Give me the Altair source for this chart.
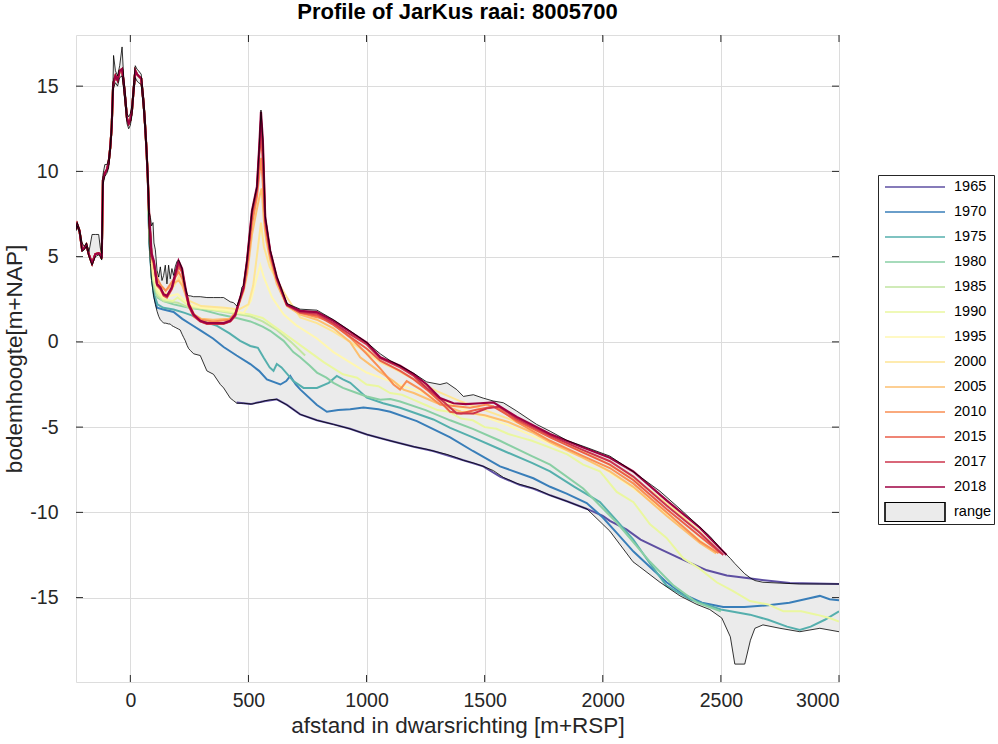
import altair as alt
import pandas as pd

# ---------------- data ----------------
years = ["1965", "1970", "1975", "1980", "1985", "1990", "1995",
         "2000", "2005", "2010", "2015", "2017", "2018"]
colors = ["#5e4fa2", "#397eb9", "#55afad", "#89cfa4", "#c1e5a0", "#eaf79f", "#fff7b0",
          "#fee594", "#fdbf6f", "#f98e52", "#ea5d47", "#cc344d", "#9e0142"]

# dune part shared by all profiles from 1970 on
dune_x = [-230, -225, -215, -204, -195, -186, -175, -162, -148, -134, -127, -121, -116, -108,
          -99, -92, -85, -79, -73, -71, -63, -54, -45, -35, -28, -21, -14, -7, 0, 7, 14, 21,
          28, 35, 46, 56, 62, 68, 74]
dune_y = [6.6, 6.9, 6.5, 5.4, 5.5, 5.7, 5.1, 4.6, 5.15, 5.2, 5.1, 4.9, 9.5, 9.9,
          10.1, 10.5, 11.4, 12.6, 15.0, 15.2, 15.6, 15.35, 15.9, 16.0, 15.2, 14.2, 13.1, 12.8, 13.0, 13.6, 14.8, 15.9,
          15.7, 15.6, 15.45, 14.0, 12.8, 11.4, 9.6]

x1965 = [450, 508, 560, 620, 663, 719, 790, 860, 930, 1001, 1100, 1200, 1282, 1400, 1494, 1565,
         1650, 1705, 1777, 1848, 1933, 2000, 2030, 2100, 2160, 2250, 2327, 2441, 2525, 2635, 2792, 3000]
y1965 = [-3.55, -3.65, -3.5, -3.37, -3.7, -4.25, -4.6, -4.84, -5.1, -5.43, -5.8, -6.15, -6.4, -6.9, -7.3, -7.9,
         -8.4, -8.6, -9.0, -9.35, -9.8, -10.2, -10.5, -11.0, -11.6, -12.2, -12.7, -13.4, -13.7, -13.9, -14.15, -14.2]

x1970 = [80, 90, 100, 113, 140, 183, 220, 254, 300, 350, 395, 450, 508, 545, 578, 635, 660, 677, 700, 720,
         790, 832, 880, 931, 987, 1050, 1100, 1213, 1354, 1450, 1565, 1706, 1777, 1847, 1932, 2000, 2059,
         2130, 2200, 2270, 2341, 2420, 2510, 2600, 2700, 2790, 2870, 2919, 2960, 3000]
y1970 = [6.0, 3.9, 2.7, 2.0, 1.9, 1.75, 1.35, 1.05, 0.65, 0.2, -0.3, -0.8, -1.3, -1.7, -2.2, -2.5, -2.3, -2.0, -2.5, -2.8,
         -3.7, -4.1, -4.0, -3.95, -3.85, -3.95, -4.1, -4.65, -5.6, -6.4, -7.3, -8.0, -8.5, -8.9, -9.45, -10.3, -11.2,
         -12.3, -13.2, -14.1, -14.8, -15.3, -15.55, -15.55, -15.45, -15.3, -15.05, -14.9, -15.1, -15.15]

x1975 = [80, 90, 100, 115, 140, 183, 230, 280, 330, 367, 420, 465, 508, 540, 564, 590, 606, 620, 640, 690,
         733, 790, 840, 874, 900, 931, 1001, 1070, 1142, 1283, 1354, 1450, 1565, 1700, 1777, 1880, 1988,
         2060, 2129, 2200, 2270, 2369, 2500, 2623, 2700, 2780, 2834, 2880, 2940, 3000]
y1975 = [6.0, 3.8, 2.8, 2.2, 2.0, 1.9, 1.7, 1.45, 1.1, 0.94, 0.5, 0.06, -0.24, -0.35, -0.92, -1.5, -1.7, -1.3, -1.5, -2.3,
         -2.7, -2.7, -2.4, -2.0, -2.2, -2.4, -3.27, -3.6, -3.86, -4.55, -5.04, -5.6, -6.3, -7.1, -7.6, -8.5, -9.4,
         -10.5, -11.6, -13.0, -14.3, -15.1, -15.7, -16.0, -16.3, -16.7, -16.9, -16.7, -16.3, -15.8]

x1980 = [80, 90, 100, 115, 140, 183, 250, 300, 380, 450, 508, 560, 592, 649, 690, 719, 760, 790, 830, 860,
         900, 959, 1001, 1058, 1100, 1142, 1250, 1354, 1450, 1565, 1700, 1777, 1917, 2059, 2200, 2300, 2400, 2500]
y1980 = [6.2, 4.1, 3.1, 2.6, 2.4, 2.2, 2.0, 1.9, 1.6, 1.4, 1.2, 0.9, 0.65, 0.06, -0.6, -0.9, -1.4, -1.8, -2.1, -2.4,
         -2.7, -3.0, -3.2, -3.4, -3.35, -3.5, -4.0, -4.6, -5.1, -5.8, -6.7, -7.2, -8.6, -10.6, -12.9, -14.3, -15.3, -15.8]

x1985 = [80, 90, 100, 115, 140, 200, 250, 300, 400, 508, 560, 620, 680, 740]
y1985 = [6.5, 4.3, 3.4, 2.7, 2.4, 2.3, 2.0, 1.95, 1.75, 1.5, 1.2, 0.7, 0.0, -0.8]

x1990 = [80, 90, 100, 115, 140, 180, 200, 220, 250, 300, 400, 508, 560, 600, 650, 700, 760, 820, 900, 960,
         1000, 1050, 1100, 1150, 1200, 1250, 1300, 1350, 1400, 1450, 1500, 1550, 1600, 1650, 1700, 1777, 1850,
         1917, 1988, 2059, 2130, 2200, 2270, 2341, 2410, 2482, 2550, 2623, 2700, 2764, 2840, 2905, 2960, 3000]
y1990 = [6.8, 4.4, 3.6, 2.9, 2.5, 2.4, 2.6, 2.4, 2.1, 2.0, 1.8, 1.6, 1.4, 1.0, 0.5, 0.0, -0.6, -1.2, -1.9, -2.1,
         -2.5, -2.6, -3.0, -3.1, -3.4, -3.7, -4.0, -4.1, -4.5, -4.6, -5.0, -5.1, -5.4, -5.6, -5.8, -6.2, -6.6,
         -7.2, -7.6, -8.8, -9.4, -10.7, -11.5, -12.7, -13.3, -14.1, -14.6, -15.2, -15.4, -15.8, -15.8, -16.0, -16.2, -16.4]

x1995 = [80, 90, 100, 115, 140, 200, 250, 300, 400, 480, 510, 530, 550, 565, 600, 650, 700, 790, 860, 930,
         1000, 1100, 1200, 1300, 1400, 1500, 1600, 1700, 1800, 1900, 2000, 2100, 2200, 2300, 2400, 2470]
y1995 = [7.0, 4.6, 3.8, 3.1, 2.6, 2.8, 2.2, 2.0, 1.9, 1.7, 2.4, 3.5, 4.5, 3.8, 2.6, 1.6, 1.0, 0.2, -0.6, -1.2,
         -1.8, -2.3, -2.8, -3.3, -3.9, -4.4, -4.9, -5.5, -6.1, -6.7, -7.4, -8.3, -9.3, -10.4, -11.5, -12.3]

x2000 = [80, 90, 100, 115, 140, 160, 190, 205, 225, 250, 300, 400, 460, 500, 520, 540, 553, 565, 590, 630,
         663, 719, 790, 860, 930, 1000, 1060, 1120, 1200, 1300, 1400, 1500, 1600, 1700, 1800, 1900, 2000,
         2100, 2200, 2300, 2400, 2480]
y2000 = [7.0, 4.8, 4.0, 3.3, 2.9, 2.8, 3.4, 3.8, 3.2, 2.4, 2.1, 2.0, 1.9, 2.2, 3.3, 5.5, 7.0, 5.6, 4.4, 3.4,
         2.6, 1.43, 1.1, 0.6, 0.0, -0.6, -1.2, -1.6, -2.2, -2.9, -3.5, -4.0, -4.5, -5.1, -5.7, -6.3, -7.0,
         -7.8, -8.7, -9.8, -11.0, -12.1]

x2005 = [80, 90, 100, 115, 130, 150, 175, 190, 205, 220, 235, 250, 270, 300, 350, 420, 445, 465, 480, 495,
         515, 536, 548, 556, 565, 575, 592, 620, 663, 719, 790, 860, 930, 973, 1050, 1114, 1156, 1200, 1300,
         1400, 1500, 1600, 1700, 1777, 1917, 2030, 2129, 2270, 2411, 2480]
y2005 = [7.2, 5.0, 4.4, 3.6, 3.3, 3.0, 3.3, 3.5, 3.6, 3.3, 2.7, 2.1, 1.6, 1.35, 1.3, 1.35, 1.7, 2.4, 3.0, 4.0,
         6.3, 7.8, 8.6, 9.0, 7.2, 6.0, 4.8, 3.4, 2.1, 1.6, 1.3, 0.8, 0.0, -0.9, -1.7, -2.3, -2.8, -3.0, -3.6,
         -4.1, -4.3, -4.7, -5.3, -5.9, -6.8, -7.6, -8.5, -10.2, -11.8, -12.4]

x2010 = [80, 90, 100, 115, 130, 150, 175, 190, 205, 220, 235, 250, 270, 300, 350, 420, 445, 465, 480, 495,
         515, 536, 546, 554, 562, 572, 592, 620, 663, 719, 790, 846, 931, 1000, 1060, 1114, 1142, 1170, 1230,
         1311, 1438, 1509, 1560, 1636, 1777, 1917, 2030, 2129, 2270, 2411, 2490]
y2010 = [7.3, 5.0, 4.5, 3.7, 3.3, 3.0, 3.5, 3.8, 4.1, 3.7, 2.9, 2.2, 1.6, 1.3, 1.2, 1.3, 1.7, 2.5, 3.1, 4.3,
         6.9, 8.5, 9.8, 10.8, 9.0, 6.6, 5.0, 3.6, 2.2, 1.7, 1.45, 1.2, 0.25, -0.7, -1.6, -2.5, -2.8, -2.3, -2.8,
         -3.67, -3.86, -3.67, -3.9, -4.7, -5.8, -6.7, -7.4, -8.3, -10.0, -11.7, -12.4]

x2015 = [80, 90, 100, 113, 127, 141, 155, 176, 190, 204, 219, 233, 247, 268, 296, 324, 395, 423, 444, 465,
         479, 494, 515, 536, 546, 553, 561, 571, 592, 620, 663, 719, 790, 860, 930, 1001, 1058, 1142, 1200,
         1255, 1311, 1354, 1400, 1460, 1537, 1636, 1777, 1917, 2030, 2129, 2270, 2411, 2500]
y2015 = [7.3, 5.0, 4.6, 3.3, 3.1, 2.7, 2.6, 3.1, 3.8, 4.4, 4.1, 3.0, 2.1, 1.5, 1.2, 1.05, 1.05, 1.2, 1.5, 2.5,
         3.1, 4.6, 7.4, 8.8, 11.0, 12.2, 10.5, 7.0, 5.2, 3.7, 2.15, 1.7, 1.55, 1.0, 0.3, -0.4, -1.1, -1.7, -2.2,
         -2.8, -3.5, -4.1, -4.2, -4.0, -3.8, -4.6, -5.6, -6.5, -7.2, -8.1, -9.8, -11.4, -12.4]

x2017 = [80, 90, 100, 113, 127, 141, 155, 176, 190, 204, 219, 233, 247, 268, 296, 324, 395, 423, 444, 465,
         479, 494, 515, 536, 546, 553, 561, 571, 592, 620, 663, 719, 790, 860, 930, 1001, 1058, 1142, 1200,
         1255, 1325, 1382, 1452, 1510, 1560, 1636, 1777, 1917, 2030, 2129, 2270, 2411, 2510]
y2017 = [7.3, 5.0, 4.7, 3.35, 3.15, 2.75, 2.65, 3.15, 3.9, 4.6, 4.2, 3.1, 2.15, 1.55, 1.2, 1.08, 1.08, 1.2, 1.55, 2.55,
         3.15, 4.7, 7.6, 9.0, 11.3, 13.0, 11.4, 7.2, 5.3, 3.7, 2.15, 1.75, 1.65, 1.1, 0.45, -0.15, -0.95, -1.5, -2.0,
         -2.7, -3.5, -4.2, -4.2, -3.9, -3.8, -4.5, -5.5, -6.35, -7.0, -7.9, -9.6, -11.2, -12.5]

x2018 = [80, 90, 99, 113, 127, 141, 155, 176, 190, 204, 219, 233, 247, 268, 296, 324, 395, 423, 444, 465,
         479, 494, 515, 536, 546, 553, 561, 571, 592, 620, 663, 719, 790, 860, 930, 1001, 1058, 1142, 1200,
         1255, 1311, 1368, 1420, 1481, 1537, 1636, 1777, 1917, 2030, 2129, 2270, 2411, 2524]
y2018 = [7.4, 5.2, 4.76, 3.4, 3.2, 2.8, 2.7, 3.2, 4.0, 4.76, 4.3, 3.2, 2.2, 1.6, 1.24, 1.1, 1.1, 1.24, 1.6, 2.6,
         3.2, 4.76, 7.7, 9.1, 11.5, 13.5, 11.8, 7.3, 5.35, 3.8, 2.2, 1.82, 1.75, 1.24, 0.6, -0.04, -0.9, -1.4, -1.9,
         -2.5, -3.3, -3.6, -3.65, -3.6, -3.55, -4.4, -5.4, -6.2, -6.8, -7.6, -9.3, -10.9, -12.5]

# envelope of all surveyed years (range)
range_x = [-230, -225, -215, -204, -195, -186, -175, -162, -148, -134, -127, -121, -116, -108, -99, -92,
           -85, -79, -73, -71, -63, -54, -45, -35, -28, -21, -14, -7, 0, 7, 14, 21, 28, 35, 46, 56, 62,
           68, 74, 80, 85, 90, 96, 100, 106, 113, 120, 127, 134, 141, 148, 155, 162, 169, 176, 183, 190,
           197, 204, 211, 219, 226, 233, 240, 247, 254, 268, 296, 324, 352, 381, 395, 423, 437, 451, 465,
           472, 479, 494, 515, 536, 546, 553, 561, 571, 592, 620, 663, 719, 790, 860, 930, 1001, 1058,
           1100, 1142, 1200, 1255, 1311, 1340, 1382, 1410, 1452, 1494, 1537, 1579, 1636, 1720, 1777,
           1848, 1933, 2030, 2128, 2157, 2242, 2327, 2398, 2453, 2504, 2540, 2559, 2601, 2625, 2644,
           2678, 2750, 2834, 2919, 3000]
range_hi = [6.7, 7.0, 6.6, 5.8, 5.6, 5.8, 5.3, 6.3, 6.3, 6.3, 5.5, 5.2, 9.8, 10.4, 10.4, 10.7,
            11.6, 13.0, 15.4, 16.8, 15.9, 15.6, 16.2, 17.3, 15.5, 14.6, 13.4, 13.2, 13.4, 13.9, 15.2, 16.2,
            16.0, 15.9, 15.7, 14.4, 13.3, 11.8, 10.2, 7.6, 7.3, 6.8, 7.0, 5.8, 5.4, 4.2, 3.8, 4.4, 3.6,
            3.9, 4.5, 3.4, 4.5, 3.7, 4.3, 3.9, 4.4, 4.7, 4.8, 4.6, 4.3, 3.6, 3.2, 2.8, 2.7, 2.7, 2.65,
            2.65, 2.6, 2.6, 2.6, 2.6, 2.35, 2.3, 2.1, 2.6, 3.2, 3.3, 4.8, 7.7, 9.1, 11.5, 13.6, 11.9,
            7.4, 5.4, 3.85, 2.25, 1.92, 1.86, 1.3, 0.65, -0.04, -0.7, -1.1, -1.4, -1.85, -2.35, -2.5,
            -2.4, -2.8, -3.2, -3.1, -3.3, -3.47, -3.57, -4.06, -4.84, -5.24, -5.78, -6.2, -6.7, -7.6,
            -7.9, -8.76, -9.8, -10.7, -11.4, -12.2, -12.7, -13.0, -13.6, -13.85, -14.0, -14.1, -14.15,
            -14.2, -14.2, -14.2]
range_lo = [6.5, 6.8, 6.4, 5.3, 5.4, 5.6, 5.0, 4.5, 5.0, 5.1, 5.0, 4.8, 9.2, 9.7, 9.9, 10.2,
            11.1, 12.2, 14.6, 14.9, 15.2, 15.0, 15.5, 15.6, 14.8, 13.8, 12.8, 12.5, 12.7, 13.3, 14.5, 15.5,
            15.3, 15.2, 15.1, 13.6, 12.4, 11.0, 9.2, 5.8, 4.6, 3.6, 3.0, 2.6, 2.2, 1.8, 1.5, 1.3, 1.2,
            1.1, 1.1, 1.08, 1.05, 1.05, 0.95, 0.9, 0.85, 0.8, 0.75, 0.7, 0.45, 0.25, 0.06, -0.2, -0.4,
            -0.5, -0.7, -0.8, -1.7, -1.9, -2.5, -2.7, -3.3, -3.45, -3.6, -3.6, -3.6, -3.6, -3.62, -3.65,
            -3.57, -3.56, -3.53, -3.5, -3.45, -3.4, -3.37, -3.7, -4.25, -4.6, -4.84, -5.1, -5.43, -5.65,
            -5.8, -5.95, -6.15, -6.3, -6.5, -6.6, -6.8, -6.95, -7.1, -7.3, -7.55, -7.95, -8.3, -8.65,
            -9.0, -9.35, -9.8, -11.1, -12.9, -13.2, -14.1, -14.9, -15.4, -15.7, -16.2, -17.3, -18.9,
            -18.9, -17.5, -16.8, -16.6, -16.8, -17.0, -16.8, -17.0]

x_ticks = [0, 500, 1000, 1500, 2000, 2500, 3000]
y_ticks = [-15, -10, -5, 0, 5, 10, 15]

tails = {
    "1965": (x1965, y1965), "1970": (x1970, y1970), "1975": (x1975, y1975), "1980": (x1980, y1980),
    "1985": (x1985, y1985), "1990": (x1990, y1990), "1995": (x1995, y1995), "2000": (x2000, y2000),
    "2005": (x2005, y2005), "2010": (x2010, y2010), "2015": (x2015, y2015), "2017": (x2017, y2017),
    "2018": (x2018, y2018),
}

# ---------------- chart ----------------
W, H = 763, 647
FONT = "Liberation Sans"
TXT = "#262626"

xsc = alt.Scale(domain=[-230, 3000], nice=False, zero=False)
ysc = alt.Scale(domain=[-19.95, 18.0], nice=False, zero=False)

axis_style = dict(grid=True, gridColor="#dcdcdc", gridWidth=1, domain=False, ticks=False,
                  labelFont=FONT, labelFontSize=19.5, labelColor=TXT, titleFont=FONT,
                  titleFontSize=22.5, titleFontWeight="normal", titleColor=TXT,
                  labelExpr="datum.value < 0 ? '-' + abs(datum.value) : '' + datum.value")
x_axis = alt.Axis(values=x_ticks, title="afstand in dwarsrichting [m+RSP]",
                  labelPadding=9, titlePadding=5, **axis_style)
y_axis = alt.Axis(values=y_ticks, title="bodemhoogte[m+NAP]",
                  labelPadding=18, titlePadding=3, **axis_style)

names = years + ["range"]
stroke_scale = alt.Scale(domain=names, range=colors + ["#000000"])
fill_scale = alt.Scale(domain=names, range=["transparent"] * 13 + ["#ebebeb"])
shape_scale = alt.Scale(domain=names, range=["M-1,0H1"] * 13 + ["M-1,-0.33H1V0.33H-1Z"])

leg = alt.Legend(
    title=None, orient="none", legendX=802, legendY=140, direction="vertical",
    symbolSize=3600, symbolStrokeWidth=1.6, clipHeight=20, rowPadding=5, padding=2,
    strokeColor=TXT, fillColor="white", labelFont=FONT, labelFontSize=14.5, labelColor="black",
    labelOffset=8, symbolOffset=4, symbolOpacity=1,
)


def X(field):
    return alt.X(field, type="quantitative", scale=xsc, axis=x_axis)


def Y(field):
    return alt.Y(field, type="quantitative", scale=ysc, axis=y_axis)


range_df = pd.DataFrame({"x": range_x, "lo": range_lo, "hi": range_hi})

area = alt.Chart(range_df).mark_area(color="#ebebeb", clip=True).encode(
    x=X("x"), y=Y("lo"), y2="hi:Q")

layers = [area]
for yr in years:
    tx, ty = tails[yr]
    if yr == "1965":
        xs_, ys_ = list(tx), list(ty)
    else:
        xs_, ys_ = dune_x + list(tx), dune_y + list(ty)
    df = pd.DataFrame({"x": xs_, "y": ys_, "series": yr, "i": range(len(xs_))})
    layers.append(
        alt.Chart(df).mark_line(strokeWidth=2.2 if yr == "2018" else 2, clip=True).encode(
            x=X("x"), y=Y("y"),
            stroke=alt.Stroke("series:N", scale=stroke_scale, legend=leg),
            order=alt.Order("i:Q"),
        )
    )

for col in ["lo", "hi"]:
    layers.append(
        alt.Chart(range_df).mark_line(color="black", strokeWidth=0.8, clip=True).encode(
            x=X("x"), y=Y(col))
    )

xt = pd.DataFrame({"t": x_ticks})
yt = pd.DataFrame({"t": y_ticks})
layers.append(alt.Chart(xt).mark_rule(color=TXT, strokeWidth=1).encode(
    x=X("t"), y=alt.value(H - 7), y2=alt.value(H)))
layers.append(alt.Chart(xt).mark_rule(color=TXT, strokeWidth=1).encode(
    x=X("t"), y=alt.value(0), y2=alt.value(7)))
layers.append(alt.Chart(yt).mark_rule(color=TXT, strokeWidth=1).encode(
    y=Y("t"), x=alt.value(0), x2=alt.value(7)))
layers.append(alt.Chart(yt).mark_rule(color=TXT, strokeWidth=1).encode(
    y=Y("t"), x=alt.value(W - 7), x2=alt.value(W)))

legend_df = pd.DataFrame({"series": names})
layers.append(
    alt.Chart(legend_df).mark_point(opacity=0).encode(
        stroke=alt.Stroke("series:N", scale=stroke_scale, legend=leg),
        fill=alt.Fill("series:N", scale=fill_scale, legend=leg),
        shape=alt.Shape("series:N", scale=shape_scale, legend=leg),
    )
)

chart = alt.layer(*layers).properties(
    width=W, height=H,
    title=alt.Title("Profile of JarKus raai: 8005700", font=FONT, fontSize=22, fontWeight="bold",
                    color="black", anchor="middle", offset=11),
    autosize=alt.AutoSizeParams(type="none"),
    padding={"left": 76, "top": 35, "right": 159, "bottom": 62},
).configure_view(
    stroke=TXT, strokeWidth=1
).configure(background="white")

chart.save("out.html", embed_options={"renderer": "svg", "actions": False})
